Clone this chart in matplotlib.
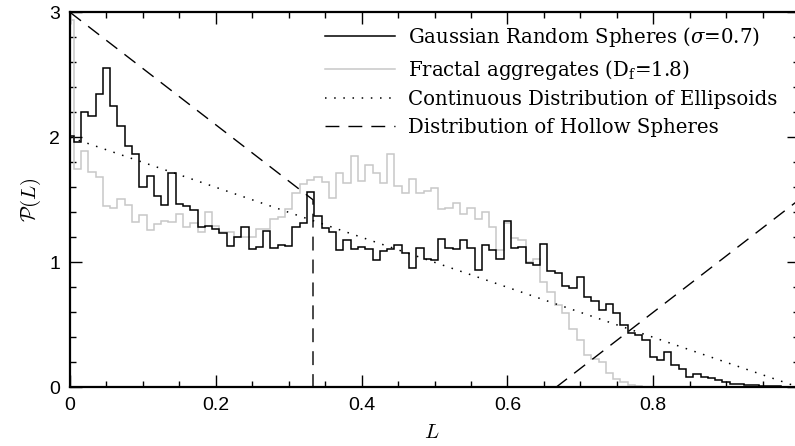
import matplotlib
matplotlib.use("Agg")
import matplotlib.pyplot as plt
import numpy as np
from matplotlib.ticker import MultipleLocator, FuncFormatter
from matplotlib.lines import Line2D

plt.rcParams["mathtext.fontset"] = "dejavuserif"

# ---- data -------------------------------------------------------------
bin_width = 0.01
n_bins = 101  # centres at 0.00 ... 1.00 (first/last half width)

gaussian_spheres = [
    2.01, 1.965, 2.205, 2.17, 2.35, 2.555, 2.25, 2.09, 1.93, 1.865,
    1.60, 1.69, 1.53, 1.456, 1.712, 1.466, 1.45, 1.418, 1.28, 1.29,
    1.264, 1.232, 1.13, 1.205, 1.28, 1.104, 1.12, 1.25, 1.112, 1.138,
    1.133, 1.28, 1.317, 1.56, 1.37, 1.272, 1.245, 1.098, 1.178, 1.106,
    1.125, 1.104, 1.018, 1.093, 1.104, 1.138, 1.072, 0.952, 1.112, 1.024,
    1.018, 1.19, 1.112, 1.106, 1.178, 1.117, 0.938, 1.138, 1.098, 1.024,
    1.333, 1.112, 1.12, 0.992, 0.978, 1.144, 0.930, 0.912, 0.813, 0.792,
    0.885, 0.725, 0.69, 0.618, 0.668, 0.598, 0.495, 0.432, 0.418, 0.378,
    0.24, 0.218, 0.28, 0.178, 0.144, 0.08, 0.106, 0.08, 0.072, 0.058,
    0.04, 0.028, 0.026, 0.022, 0.018, 0.012, 0.01, 0.008, 0.005, 0.003,
    0.002,
]

fractal_aggregates = [
    2.94, 1.744, 1.89, 1.725, 1.685, 1.453, 1.437, 1.509, 1.458, 1.32,
    1.378, 1.258, 1.304, 1.333, 1.325, 1.386, 1.285, 1.312, 1.245, 1.405,
    1.29, 1.245, 1.245, 1.205, 1.205, 1.205, 1.266, 1.266, 1.344, 1.36,
    1.424, 1.557, 1.626, 1.658, 1.685, 1.645, 1.512, 1.717, 1.637, 1.85,
    1.653, 1.778, 1.717, 1.632, 1.864, 1.61, 1.552, 1.666, 1.552, 1.573,
    1.592, 1.43, 1.432, 1.477, 1.386, 1.437, 1.346, 1.405, 1.285, 1.098,
    1.312, 1.197, 1.178, 1.0, 1.026, 0.845, 0.765, 0.658, 0.592, 0.464,
    0.378, 0.26, 0.23, 0.2, 0.112, 0.07, 0.04, 0.02, 0.01, 0.005,
    0.002, 0, 0, 0, 0, 0, 0, 0, 0, 0,
    0, 0, 0, 0, 0, 0, 0, 0, 0, 0,
    0,
]

cde_L = [0.0, 1.0]
cde_P = [2.0, 0.0]

hollow_L1 = [0.0, 1 / 3, 1 / 3]
hollow_P1 = [3.0, 1.5, 0.0]
hollow_L2 = [2 / 3, 1.0]
hollow_P2 = [0.0, 1.5]

labels = [
    r"Gaussian Random Spheres ($\sigma$=0.7)",
    r"Fractal aggregates (D$_\mathrm{f}$=1.8)",
    "Continuous Distribution of Ellipsoids",
    "Distribution of Hollow Spheres",
]

# ---- figure -----------------------------------------------------------
W, H = 795, 446
fig = plt.figure(figsize=(W / 100, H / 100), dpi=100)
x0, x1 = 70, 799
y0, y1 = 387.3, 12.3
ax = fig.add_axes([x0 / W, (H - y0) / H, (x1 - x0) / W, (y0 - y1) / H])

edges = np.clip((np.arange(n_bins + 1) - 0.5) * bin_width, 0, 1)

gray = "#c8c8c8"
ax.stairs(fractal_aggregates, edges, color=gray, lw=1.1, baseline=None, zorder=2)
ax.stairs(gaussian_spheres, edges, color="black", lw=1.1, baseline=None, zorder=3)

ln_cde, = ax.plot(cde_L, cde_P, color="black", lw=1.1, dashes=(1, 5))
ln_h, = ax.plot(hollow_L1, hollow_P1, color="black", lw=1.0, dashes=(10, 6.5))
ax.plot(hollow_L2, hollow_P2, color="black", lw=1.0, dashes=(10, 6.5))

ax.set_xlim(0, 1)
ax.set_ylim(0, 3)

ax.xaxis.set_major_locator(MultipleLocator(0.2))
ax.xaxis.set_minor_locator(MultipleLocator(0.05))
ax.yaxis.set_major_locator(MultipleLocator(1))
ax.yaxis.set_minor_locator(MultipleLocator(0.2))


def xfmt(v, p):
    if abs(v) < 1e-9:
        return "0"
    if v > 0.99:
        return ""
    return f"{v:g}"


ax.xaxis.set_major_formatter(FuncFormatter(xfmt))
ax.yaxis.set_major_formatter(FuncFormatter(lambda v, p: f"{v:g}"))

ax.tick_params(which="both", direction="in", top=True, right=True, width=1.0)
ax.tick_params(which="major", length=8.8, pad=7, labelsize=14)
ax.tick_params(which="minor", length=4.5)
for lab in ax.get_xticklabels() + ax.get_yticklabels():
    lab.set_fontfamily("Liberation Sans")
for s in ax.spines.values():
    s.set_linewidth(1.6)

fig.text(432 / W, 1 - 432 / H, "$L$", math_fontfamily="cm", fontsize=15,
         ha="center", va="center")
fig.text(31 / W, 1 - 200 / H, r"$\mathcal{P}(L)$", math_fontfamily="cm",
         fontsize=15, rotation=90, ha="center", va="center")

h_gauss = Line2D([], [], color="black", lw=1.1)
h_frac = Line2D([], [], color=gray, lw=1.1)
fs = 14.2
leg = ax.legend([h_gauss, h_frac, ln_cde, ln_h], labels,
                loc="upper left",
                bbox_to_anchor=((325 - x0) / (x1 - x0), (y0 - 25.0) / (y0 - y1)),
                frameon=False, borderpad=0, borderaxespad=0,
                handlelength=70 / (fs * 100 / 72), handletextpad=13 / (fs * 100 / 72),
                labelspacing=0.44,
                prop={"family": "DejaVu Serif", "size": fs})

fig.savefig("out.png", dpi=100)
